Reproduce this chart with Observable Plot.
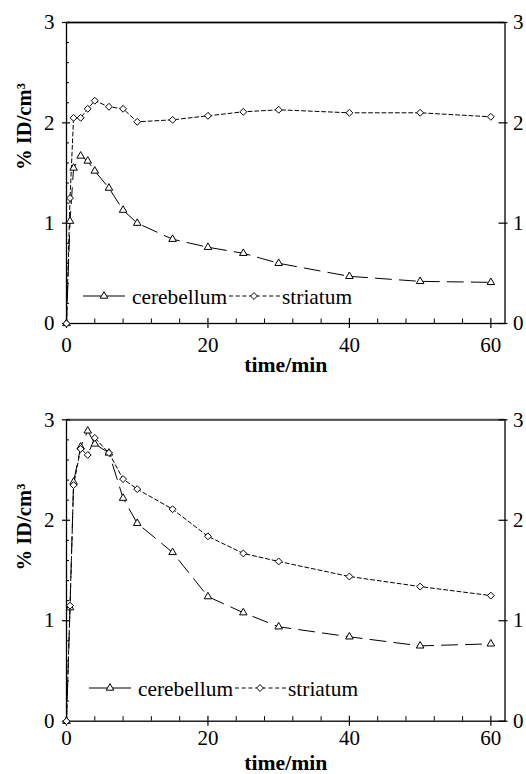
<!DOCTYPE html>
<html><head><meta charset="utf-8">
<script src="https://cdn.jsdelivr.net/npm/d3@7"></script>
<script src="https://cdn.jsdelivr.net/npm/@observablehq/plot@0.6"></script>
<style>
body{margin:0;background:#fff}
#wrap{position:relative;width:526px;height:774px;overflow:hidden;background:#fff}
#wrap svg{display:block}
</style>
</head><body><div id="wrap"></div>
<script>
// ---- data ----
const time = [0, 0.5, 1, 2, 3, 4, 6, 8, 10, 15, 20, 25, 30, 40, 50, 60];
const cerebellumTop = [0, 1.02, 1.55, 1.67, 1.62, 1.52, 1.35, 1.13, 1.00, 0.84, 0.76, 0.70, 0.60, 0.47, 0.42, 0.41];
const striatumTop   = [0, 1.25, 2.05, 2.05, 2.14, 2.22, 2.16, 2.14, 2.01, 2.03, 2.07, 2.11, 2.13, 2.10, 2.10, 2.06];
const cerebellumBottom = [0, 1.13, 2.38, 2.73, 2.89, 2.76, 2.67, 2.22, 1.97, 1.68, 1.24, 1.08, 0.94, 0.84, 0.75, 0.77];
const striatumBottom   = [0, 1.15, 2.35, 2.71, 2.65, 2.82, 2.67, 2.41, 2.31, 2.11, 1.84, 1.67, 1.59, 1.44, 1.34, 1.25];
const seriesNames = ["cerebellum", "striatum"];
const xTicks = [0, 20, 40, 60];
const xMinorTicks = [4, 8, 12, 16, 24, 28, 32, 36, 44, 48, 52, 56];
const yTicks = [0, 1, 2, 3];
const yMinorTicks = [0.2, 0.4, 0.6, 0.8, 1.2, 1.4, 1.6, 1.8, 2.2, 2.4, 2.6, 2.8];
const xDomain = [0, 62];
const yDomain = [0, 3];
const xLabel = "time/min";
const yLabel = "% ID/cm³";

// ---- font selection (first installed serif, else sans) ----
const ctx = document.createElement("canvas").getContext("2d");
function has(name) {
  const s = "mmmmmmmmmmlliiWWQQ0123456789";
  return ["monospace", "sans-serif", "serif"].some(base => {
    ctx.font = `40px ${base}`; const a = ctx.measureText(s).width;
    ctx.font = `40px "${name}", ${base}`; const b = ctx.measureText(s).width;
    return a !== b;
  });
}
const candidates = ["Liberation Serif", "DejaVu Serif", "Tinos", "Times New Roman", "Noto Serif",
                    "Liberation Sans", "Arimo", "Arial", "Noto Sans", "DejaVu Sans"];
const picked = candidates.find(has) || "serif";
const FONT = `"${picked}", serif`;
function sizeFor(text, target, weight = "normal") {
  ctx.font = `${weight} 100px ${FONT}`;
  return Math.round(target * 100 / ctx.measureText(text).width * 10) / 10;
}
const tickFS = Math.min(21, sizeFor("40", 21.5));
const legendFS = Math.min(22, sizeFor(seriesNames[0], 95));
const xLabelFS = Math.min(22, sizeFor(xLabel, 83, "bold"));
const yLabelFS = Math.min(22, sizeFor(yLabel, 87, "bold"));

// ---- style ----
const TRI_R = 2.8, DIA_R = 3.1;
const dashCer = "16,8", dashStr = "4,2.7";

function panel({cer, str, height, mt, mb, xPad, xLabelDy, yLabelDy, topStroke, topWidth, lx, ly}) {
  const rows = time.map((t, i) => ({t, cer: cer[i], str: str[i]}));
  const svg = Plot.plot({
    width: 526, height,
    marginLeft: 66, marginRight: 21.5, marginTop: mt, marginBottom: mb,
    style: {fontFamily: FONT, fontSize: `${tickFS}px`, color: "#000", background: "transparent", overflow: "visible"},
    x: {domain: xDomain, label: null},
    y: {domain: yDomain, label: null},
    marks: [
      Plot.frame({stroke: "#000", strokeWidth: 1.3}),
      Plot.ruleY([d3.max(yTicks)], {stroke: topStroke, strokeWidth: topWidth}),
      Plot.axisX(xTicks, {anchor: "bottom", tickSize: 5, tickPadding: xPad, tickFormat: d => String(d), label: null, strokeWidth: 1.2}),
      Plot.axisX(xTicks, {anchor: "bottom", tickSize: -5, fill: "none", label: null, strokeWidth: 1.2}),
      Plot.axisX(xMinorTicks, {anchor: "bottom", tickSize: -4.5, fill: "none", label: null}),
      Plot.axisY(yTicks, {anchor: "left", tickSize: 4, tickPadding: 8, tickFormat: d => String(d), label: null, strokeWidth: 1.2}),
      Plot.axisY(yTicks, {anchor: "left", tickSize: -4, fill: "none", label: null, strokeWidth: 1.2}),
      Plot.axisY(yMinorTicks, {anchor: "left", tickSize: -3, fill: "none", label: null}),
      Plot.axisY(yTicks, {anchor: "right", tickSize: 2, tickPadding: 6, tickFormat: d => String(d), label: null, strokeWidth: 1.2}),
      Plot.axisY(yTicks, {anchor: "right", tickSize: -7, fill: "none", label: null, strokeWidth: 1.2}),
      Plot.line(rows, {x: "t", y: "cer", stroke: "#000", strokeWidth: 1, strokeDasharray: dashCer}),
      Plot.line(rows, {x: "t", y: "str", stroke: "#000", strokeWidth: 1, strokeDasharray: dashStr}),
      Plot.dot(rows, {x: "t", y: "cer", symbol: d3.symbolTriangle, r: TRI_R, fill: "#fff", stroke: "#000", strokeWidth: 1}),
      Plot.dot(rows, {x: "t", y: "str", symbol: d3.symbolDiamond2, r: DIA_R, fill: "#fff", stroke: "#000", strokeWidth: 1}),
      Plot.text([xLabel], {frameAnchor: "bottom", dy: xLabelDy, fontWeight: "bold", fontSize: xLabelFS}),
      Plot.text([yLabel], {frameAnchor: "left", rotate: -90, dx: -42, dy: yLabelDy, fontWeight: "bold", fontSize: yLabelFS})
    ]
  });

  // legend (inside plot area)
  const sym = (type, r) => d3.symbol(type, r * r * Math.PI)();
  const g = d3.select(svg).append("g")
    .attr("font-family", FONT).attr("font-size", legendFS).attr("fill", "#000").attr("text-anchor", "start");
  g.append("line").attr("x1", lx).attr("x2", lx + 42).attr("y1", ly).attr("y2", ly)
    .attr("stroke", "#000").attr("stroke-width", 1);
  g.append("path").attr("d", sym(d3.symbolTriangle, TRI_R)).attr("transform", `translate(${lx + 21},${ly})`)
    .attr("fill", "#fff").attr("stroke", "#000");
  g.append("text").attr("x", lx + 49).attr("y", ly + 7.5).text(seriesNames[0]);
  g.append("line").attr("x1", lx + 146).attr("x2", lx + 197).attr("y1", ly).attr("y2", ly)
    .attr("stroke", "#000").attr("stroke-dasharray", dashStr);
  g.append("path").attr("d", sym(d3.symbolDiamond2, DIA_R)).attr("transform", `translate(${lx + 171},${ly})`)
    .attr("fill", "#fff").attr("stroke", "#000");
  g.append("text").attr("x", lx + 199).attr("y", ly + 7.5).text(seriesNames[1]);
  return svg;
}

const wrap = document.getElementById("wrap");
wrap.appendChild(panel({cer: cerebellumTop, str: striatumTop, height: 390, mt: 22, mb: 67,
  xPad: 9, xLabelDy: 48, yLabelDy: -3, topStroke: "#000", topWidth: 1.3, lx: 83, ly: 296}));
wrap.appendChild(panel({cer: cerebellumBottom, str: striatumBottom, height: 384, mt: 29.3, mb: 53.3,
  xPad: 4, xLabelDy: 49, yLabelDy: 0, topStroke: "#555", topWidth: 2, lx: 89, ly: 298}));
</script>
</body></html>
